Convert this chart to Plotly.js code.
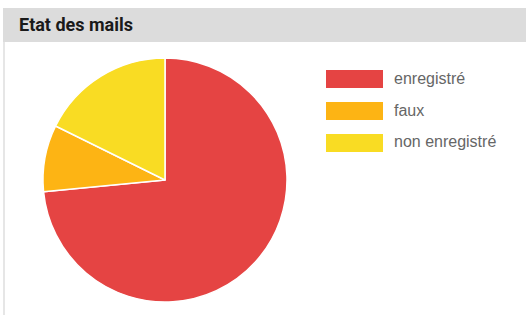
<!DOCTYPE html>
<html>
<head>
<meta charset="utf-8">
<script src="https://cdn.plot.ly/plotly-3.0.1.min.js"></script>
<style>
html,body{margin:0;padding:0;background:#fff;}
#chart{width:526px;height:315px;}
</style>
</head>
<body>
<div id="chart"></div>
<script>
const title = "Etat des mails";
const labels = ["enregistré", "faux", "non enregistré"];
const values = [83, 10, 20];
const colors = ["#e54443", "#fdb414", "#f9dc23"];

const W = 526, H = 315;
const px = x => x / W;
const py = y => 1 - y / H;

const shapes = [
  {type:"rect", xref:"paper", yref:"paper", x0:px(3), x1:px(526), y0:py(42), y1:py(8),
   fillcolor:"#dcdcdc", line:{width:0}, layer:"below"},
  {type:"line", xref:"paper", yref:"paper", x0:px(4), x1:px(4), y0:py(42), y1:py(315),
   line:{color:"#e6e6e6", width:2}, layer:"below"}
];
const annotations = [
  {text:"<b>"+title+"</b>", xref:"paper", yref:"paper", x:px(17), y:py(24.5),
   xanchor:"left", yanchor:"middle", showarrow:false,
   font:{family:"Roboto, sans-serif", size:18, color:"#1a1a1a"}}
];
labels.forEach((lab, i) => {
  const top = 70 + i * 32;
  shapes.push({type:"rect", xref:"paper", yref:"paper", x0:px(326), x1:px(383),
    y0:py(top + 18), y1:py(top), fillcolor:colors[i], line:{width:0}});
  annotations.push({text:lab, xref:"paper", yref:"paper", x:px(392), y:py(top + 8),
    xanchor:"left", yanchor:"middle", showarrow:false,
    font:{family:"Liberation Sans, Arial, sans-serif", size:16, color:"#666666"}});
});

const trace = {
  type:"pie", labels:labels, values:values, sort:false,
  direction:"clockwise", rotation:0,
  marker:{colors:colors, line:{color:"#ffffff", width:1.5}},
  textinfo:"none", hoverinfo:"label+percent",
  domain:{x:[px(43), px(287)], y:[py(302), py(58)]},
  showlegend:false
};

Plotly.newPlot("chart", [trace], {
  width:W, height:H, margin:{l:0, r:0, t:0, b:0},
  paper_bgcolor:"#ffffff", showlegend:false,
  shapes:shapes, annotations:annotations
}, {displayModeBar:false, staticPlot:true});
</script>
</body>
</html>
